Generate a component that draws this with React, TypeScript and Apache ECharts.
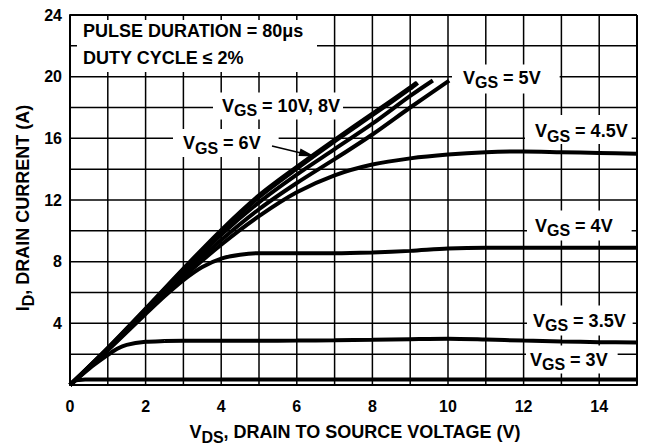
import React, { useEffect, useRef } from "react";
import * as echarts from "echarts";

// Tick labels shown on the axes
const xTickLabels = [0, 2, 4, 6, 8, 10, 12, 14];
const yTickLabels = [4, 8, 12, 16, 20, 24];
// Grid lines (every 1 V and every 2 A)
const xGridLines = [1, 2, 3, 4, 5, 6, 7, 8, 9, 10, 11, 12, 13, 14, 15];
const yGridLines = [2, 4, 6, 8, 10, 12, 14, 16, 18, 20, 22, 24];
const X_MAX = 15;
const Y_MAX = 24;

// Output characteristics: [VDS (V), ID (A)]
const vgs10V = [[0, 0], [1, 2.4], [2, 4.95], [3, 7.55], [4, 10.05], [5, 12.3], [6, 14.15], [7, 15.9], [8, 17.6], [9, 19.3], [9.17, 19.62]];
const vgs8V = [[0, 0], [1, 2.38], [2, 4.9], [3, 7.48], [4, 9.95], [5, 12.18], [6, 14.03], [7, 15.8], [8, 17.5], [9, 19.22], [9.2, 19.6]];
const vgs6V = [[0, 0], [1, 2.35], [2, 4.85], [3, 7.35], [4, 9.75], [5, 11.85], [6, 13.65], [7, 15.3], [8, 16.95], [9, 18.75], [9.6, 19.75]];
const vgs5V = [[0, 0], [1, 2.3], [2, 4.75], [3, 7.15], [4, 9.4], [5, 11.4], [6, 13.1], [7, 14.65], [8, 16.25], [9, 18.0], [10.03, 19.75]];
const vgs45V = [[0, 0], [1, 2.3], [2, 4.7], [3, 7.0], [4, 9.1], [5, 10.95], [6, 12.5], [7, 13.6], [8, 14.3], [9, 14.7], [10, 14.95], [11, 15.1], [12, 15.15], [13, 15.1], [14, 15.05], [15, 15.0]];
const vgs4V = [[0, 0], [1, 2.25], [2, 4.6], [2.5, 5.75], [3, 6.8], [3.5, 7.65], [4, 8.2], [4.5, 8.45], [5, 8.55], [6, 8.55], [7, 8.55], [8, 8.6], [9, 8.7], [10, 8.85], [11, 8.9], [12, 8.9], [13, 8.9], [14, 8.9], [15, 8.9]];
const vgs35V = [[0, 0], [0.5, 1.05], [1, 1.95], [1.25, 2.35], [1.5, 2.6], [2, 2.8], [2.5, 2.85], [3, 2.87], [4, 2.87], [5, 2.87], [6, 2.88], [7, 2.9], [8, 2.93], [9, 2.97], [10, 3.0], [11, 2.95], [12, 2.88], [13, 2.82], [14, 2.78], [15, 2.75]];
const vgs3V = [[0, 0], [0.15, 0.3], [0.4, 0.35], [15, 0.35]];

const curves = [vgs10V, vgs8V, vgs6V, vgs5V, vgs45V, vgs4V, vgs35V, vgs3V];

const FONT = "'Liberation Sans', Arial, Helvetica, sans-serif";

const richVgs = {
  m: { fontSize: 18, fontWeight: "bold", fontFamily: FONT, fill: "#000" },
  s: { fontSize: 16, fontWeight: "bold", fontFamily: FONT, fill: "#000", padding: [10, 0, 0, 0] },
};

// pad = [top, right, bottom, left] of the white box around the text
function vgsLabel(value: string, textLeft: number, y: number, pad: number[]) {
  return {
    type: "text",
    x: textLeft - pad[3],
    y,
    z: 100,
    style: {
      text: "{m|V}{s|GS}{m| = " + value + "}",
      rich: richVgs,
      textAlign: "left",
      textVerticalAlign: "middle",
      backgroundColor: "#fff",
      padding: pad,
    },
  };
}

// grid line drawn as an ordinary (non-silent) line series through the axis scales
function gridSeries(data: number[][], width: number) {
  return {
    type: "line",
    data,
    showSymbol: false,
    clip: false,
    z: 6,
    emphasis: { disabled: true },
    lineStyle: { color: "#000", width },
  };
}

export default function App() {
  const ref = useRef<HTMLDivElement>(null);

  useEffect(() => {
    if (!ref.current) return;
    const chart = echarts.init(ref.current, null, { renderer: "svg" });

    const curveSeries = curves.map((d, i) => ({
      type: "line",
      data: d,
      showSymbol: false,
      smooth: i === curves.length - 1 ? false : 0.3,
      lineStyle: { color: "#000", width: 4, cap: "butt" },
      z: 5,
    }));

    const gridLineSeries = [
      ...xGridLines.map((v) => gridSeries([[v, 0], [v, Y_MAX]], v === X_MAX ? 2 : 1.5)),
      ...yGridLines.map((v) => gridSeries([[0, v], [X_MAX, v]], v === Y_MAX ? 2 : 1.5)),
    ];

    const option: any = {
      animation: false,
      grid: { left: 70, right: 18, top: 15, bottom: 62 },
      xAxis: {
        type: "value",
        min: 0,
        max: X_MAX,
        interval: 1,
        silent: false,
        axisLine: { show: true, lineStyle: { color: "#000", width: 2 } },
        axisTick: { show: false },
        splitLine: { show: false },
        axisLabel: {
          margin: 13,
          color: "#000",
          fontSize: 16,
          fontWeight: "bold",
          fontFamily: FONT,
          showMaxLabel: true,
          formatter: (v: number) => (xTickLabels.indexOf(v) >= 0 ? String(v) : ""),
        },
      },
      yAxis: {
        type: "value",
        min: 0,
        max: Y_MAX,
        interval: 2,
        silent: false,
        axisLine: { show: true, lineStyle: { color: "#000", width: 2 } },
        axisTick: { show: false },
        splitLine: { show: false },
        axisLabel: {
          margin: 8,
          color: "#000",
          fontSize: 16,
          fontWeight: "bold",
          fontFamily: FONT,
          showMaxLabel: true,
          formatter: (v: number) => (yTickLabels.indexOf(v) >= 0 ? String(v) : ""),
        },
      },
      series: [...gridLineSeries, ...curveSeries],
      graphic: [
        // pulse info box
        {
          type: "rect",
          z: 99,
          shape: { x: 77, y: 20, width: 240, height: 52 },
          style: { fill: "#fff" },
        },
        {
          type: "text",
          x: 83,
          y: 31,
          z: 100,
          style: {
            text: "PULSE DURATION = 80\u03bcs",
            font: "bold 18px " + FONT,
            fill: "#000",
            textVerticalAlign: "middle",
          },
        },
        {
          type: "text",
          x: 83,
          y: 58,
          z: 100,
          style: {
            text: "DUTY CYCLE \u2264 2%",
            font: "bold 18px " + FONT,
            fill: "#000",
            textVerticalAlign: "middle",
          },
        },
        vgsLabel("10V, 8V", 222, 106, [0, 3, 1, 9]),
        vgsLabel("6V", 183, 143, [1, 18, 1, 10]),
        vgsLabel("5V", 463, 79, [0, 19, 3, 11]),
        vgsLabel("4.5V", 535, 129.5, [3, 4, 0, 10]),
        vgsLabel("4V", 535, 225.5, [2, 19, 2, 8]),
        vgsLabel("3.5V", 533, 320.5, [2, 7, 2, 6]),
        vgsLabel("3V", 530, 359.5, [1, 10, 1, 4]),
        // arrow to the 6V curve
        {
          type: "line",
          z: 100,
          shape: { x1: 272, y1: 146, x2: 301, y2: 153 },
          style: { stroke: "#000", lineWidth: 1.5 },
        },
        {
          type: "polygon",
          z: 100,
          shape: { points: [[315, 156.5], [298.5, 156], [300.5, 148.5]] },
          style: { fill: "#000" },
        },
        // axis titles
        {
          type: "text",
          x: 355,
          y: 432,
          z: 100,
          style: {
            text: "{m|V}{s|DS}{m|, DRAIN TO SOURCE VOLTAGE (V)}",
            rich: richVgs,
            textAlign: "center",
            textVerticalAlign: "middle",
          },
        },
        {
          type: "text",
          x: 23,
          y: 208,
          z: 100,
          rotation: Math.PI / 2,
          style: {
            text: "{m|I}{s|D}{m|, DRAIN CURRENT (A)}",
            rich: richVgs,
            textAlign: "center",
            textVerticalAlign: "middle",
          },
        },
      ],
    };

    chart.setOption(option);
    return () => chart.dispose();
  }, []);

  return (
    <div
      ref={ref}
      style={{ position: "fixed", left: 0, top: 0, width: 655, height: 447, background: "#fff" }}
    />
  );
}
